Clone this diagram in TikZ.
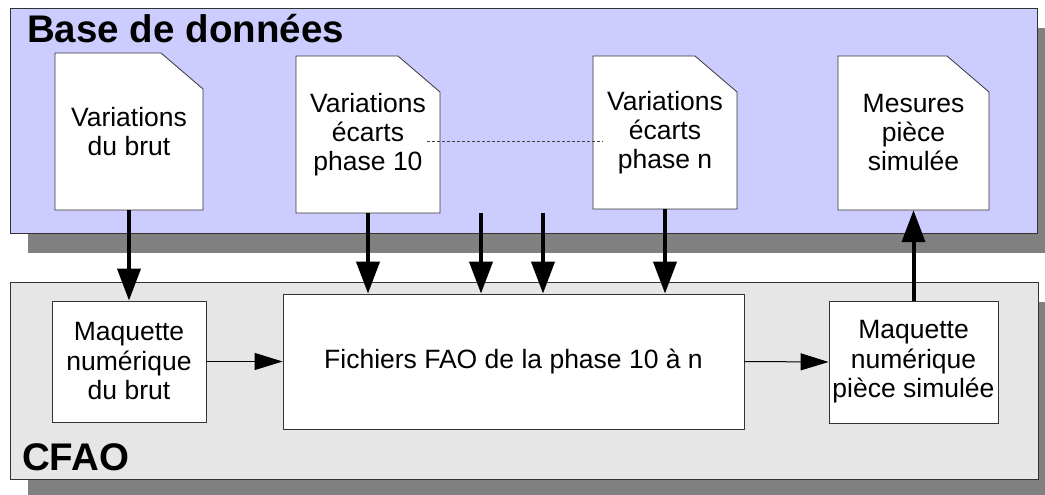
\documentclass[tikz,border=0pt]{standalone}
\usepackage{fontspec}
\setmainfont{Liberation Sans}
\usetikzlibrary{arrows.meta}
\definecolor{dbfill}{HTML}{CCCCFF}
\definecolor{cfaofill}{HTML}{E6E6E6}
\definecolor{shadowc}{HTML}{808080}
\definecolor{edgec}{HTML}{333333}
\tikzset{
  panel/.style={draw=edgec, line width=0.8pt},
  shadowbox/.style={fill=shadowc},
  docline/.style={draw=edgec, fill=white, line width=0.8pt},
  doctext/.style={inner sep=0pt, align=center, font=\fontsize{26.5}{29}\selectfont},
  boxnode/.style={draw=edgec, fill=white, line width=0.8pt, inner sep=0pt, align=center, font=\fontsize{26.5}{29.5}\selectfont},
  title/.style={inner sep=0pt, anchor=base west, font=\bfseries\fontsize{38.5}{40}\selectfont},
  bigarrow/.style={line width=4pt, -{Triangle[length=32pt,width=23pt]}},
  smallarrow/.style={line width=1pt, -{Triangle[length=28pt,width=17pt]}},
  dotline/.style={draw=black!75, line width=1pt, dash pattern=on 2.5pt off 2.5pt}
}
\newcommand{\mydoc}[6]{%
  \filldraw[docline] (#2,#3) -- ({#4-42},#3) -- (#4,{#3+36}) -- (#4,#5) -- (#2,#5) -- cycle;
  \node[doctext, minimum width={(#4-#2)*1pt}, minimum height={(#5-#3)*1pt}] (#1) at ({(#2+#4)/2},{(#3+#5)/2}) {#6};}
\begin{document}
\begin{tikzpicture}[x=1pt,y=-1pt]
\useasboundingbox (0,0) rectangle (1045,495);
% shadows
\fill[shadowbox] (28,28) rectangle (1045,253);
\fill[shadowbox] (28,302) rectangle (1045,495);
% panels
\filldraw[panel, fill=dbfill] (10,8) rectangle (1037,233);
\filldraw[panel, fill=cfaofill] (10,282) rectangle (1038,479);
\node[title] (tdb) at (27,43) {Base de données};
\node[title] (tcfao) at (22,470) {CFAO};
% documents
\mydoc{d1}{55}{53}{203}{210}{Variations\\du brut}
\mydoc{d2}{296}{56}{440}{213}{Variations\\écarts\\phase 10}
\mydoc{d3}{593}{56}{737}{209}{Variations\\écarts\\phase n}
\mydoc{d4}{838}{56}{989}{210}{Mesures\\pièce\\simulée}
% dashed link
\coordinate (dla) at (427,141);
\coordinate (dlb) at (603,141);
\draw[dotline] (dla) -- (dlb);
% CFAO boxes
\node[boxnode, minimum width=154pt, minimum height=121pt] (m1) at (129,361.5) {Maquette\\numérique\\du brut};
\node[boxnode, minimum width=461pt, minimum height=135pt] (f) at (513.5,361.5) {Fichiers FAO de la phase 10 à n};
\node[boxnode, minimum width=169pt, minimum height=122pt] (m2) at (913.5,362) {Maquette\\numérique\\pièce simulée};
% arrows
\coordinate (a3) at (481,213);
\coordinate (a4) at (543,213);
\draw[bigarrow] (d1.south) -- (m1.north);
\draw[bigarrow] (d2.south) -- (d2.south |- f.north);
\draw[bigarrow] (a3) -- (a3 |- f.north);
\draw[bigarrow] (a4) -- (a4 |- f.north);
\draw[bigarrow] (d3.south) -- (d3.south |- f.north);
\draw[bigarrow] (m2.north) -- (d4.south);
\draw[smallarrow] (m1.east) -- (f.west);
\draw[smallarrow] (f.east) -- (m2.west);
\end{tikzpicture}
\end{document}
